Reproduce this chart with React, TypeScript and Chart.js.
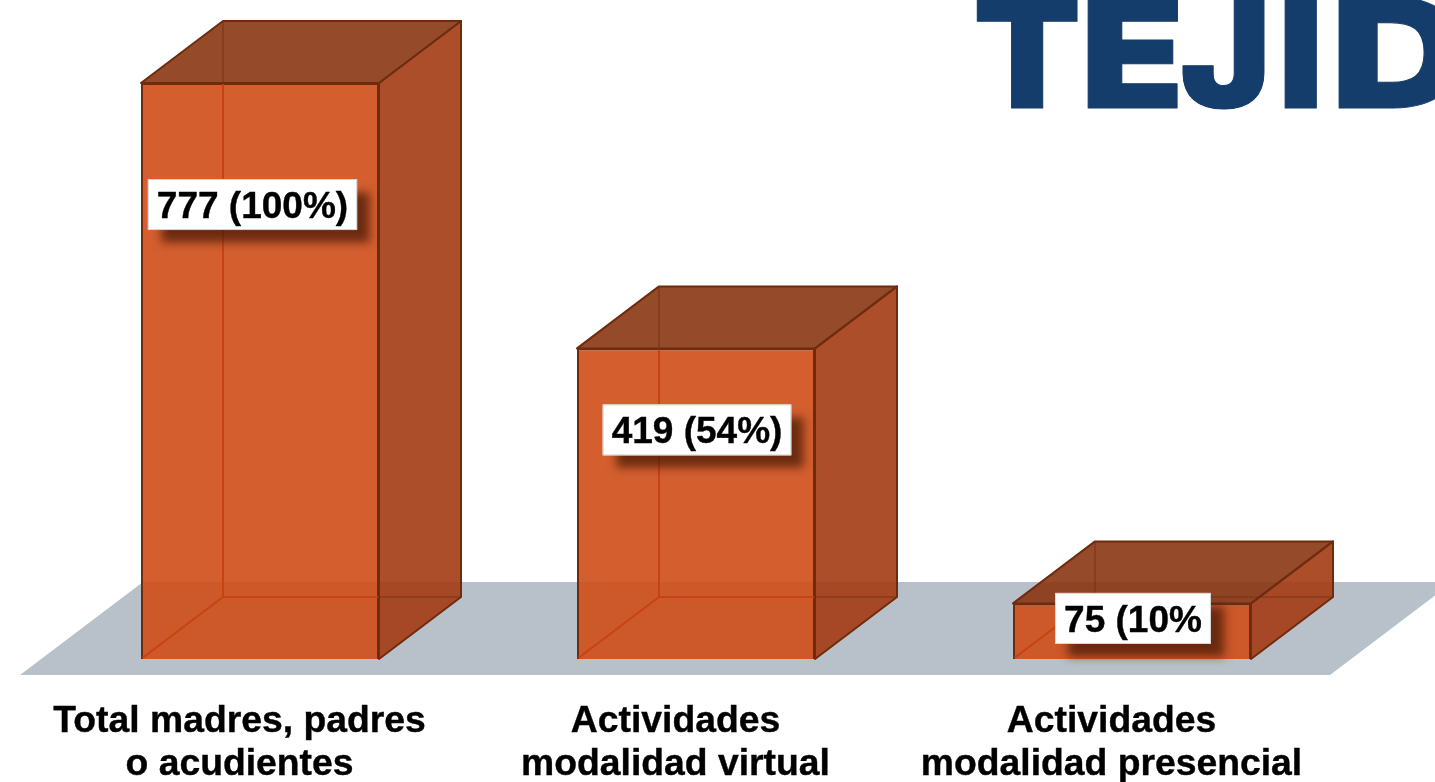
import React, { useEffect, useRef } from "react";
import { Chart, registerables } from "chart.js";

Chart.register(...registerables);

const categories = [
  ["Total madres, padres", "o acudientes"],
  ["Actividades", "modalidad virtual"],
  ["Actividades", "modalidad presencial"],
];
const values = [777, 419, 75];
const valueLabels = ["777 (100%)", "419 (54%)", "75 (10%"];
const logoLetters = ["T", "E", "J", "I", "D"];

// Presentation only
const labelNudgeX = [-7.5, 1, 1];
const labelNudgeY = [121.5, 81.5, 15];
const logoLeft = [977, 1088, 1182, 1285, 1339];
const logoWidth = [100, 90, 82, 32, 124];
const DEPTH_X = 82;
const DEPTH_Y = -62;
const FONT = '"Liberation Sans", Arial, sans-serif';
const EDGE = "#6e2c0e";
const FRONT = "rgba(207,77,23,0.9)";
const SIDE = "rgba(164,59,19,0.9)";
const TOP = "rgba(138,54,18,0.9)";

function poly(ctx: CanvasRenderingContext2D, pts: number[][], fill?: string, stroke?: string, lw = 2) {
  ctx.beginPath();
  pts.forEach((p, i) => (i ? ctx.lineTo(p[0], p[1]) : ctx.moveTo(p[0], p[1])));
  if (fill) {
    ctx.closePath();
    ctx.fillStyle = fill;
    ctx.fill();
  }
  if (stroke) {
    ctx.strokeStyle = stroke;
    ctx.lineWidth = lw;
    ctx.lineJoin = "round";
    ctx.stroke();
  }
}

const box3d = {
  id: "box3d",
  beforeDatasetsDraw(chart: any) {
    const ctx = chart.ctx as CanvasRenderingContext2D;
    const bars = chart.getDatasetMeta(0).data;
    const base = chart.scales.y.getPixelForValue(0);
    const first = bars[0];
    const last = bars[bars.length - 1];
    const left = first.x - first.width / 2;
    const right = last.x + last.width / 2;
    // floor
    const fl = left - 121;
    const fr = right + 79;
    poly(ctx, [
      [fl, base + 16],
      [fr, base + 16],
      [fr + 123, base - 77],
      [fl + 123, base - 77],
    ], "#b8c0c9");
    // side and top faces
    bars.forEach((b: any) => {
      const x0 = b.x - b.width / 2;
      const x1 = b.x + b.width / 2;
      const yT = b.y;
      poly(ctx, [[x1, yT], [x1 + DEPTH_X, yT + DEPTH_Y], [x1 + DEPTH_X, base + DEPTH_Y], [x1, base]], SIDE, EDGE);
      poly(ctx, [[x0, yT], [x0 + DEPTH_X, yT + DEPTH_Y], [x1 + DEPTH_X, yT + DEPTH_Y], [x1, yT]], TOP, EDGE);
    });
  },
  afterDatasetsDraw(chart: any) {
    const ctx = chart.ctx as CanvasRenderingContext2D;
    const bars = chart.getDatasetMeta(0).data;
    const base = chart.scales.y.getPixelForValue(0);
    // hidden back edges seen through the translucent faces
    bars.forEach((b: any) => {
      const x0 = b.x - b.width / 2;
      const x1 = b.x + b.width / 2;
      const bx = x0 + DEPTH_X;
      const by = base + DEPTH_Y;
      const hidden = (color: string) => {
        poly(ctx, [[bx, b.y + DEPTH_Y], [bx, by]], undefined, color, 2);
        poly(ctx, [[x0, base], [bx, by], [x1 + DEPTH_X, by]], undefined, color, 2);
      };
      // through the front face
      ctx.save();
      ctx.beginPath();
      ctx.rect(x0 + 1, b.y + 1, b.width - 2, base - b.y - 2);
      ctx.clip();
      hidden("rgba(196,66,16,0.9)");
      ctx.restore();
      // through the top and side faces
      ctx.save();
      ctx.beginPath();
      ctx.rect(0, 0, 1435, 782);
      ctx.rect(x0 - 1, b.y - 1, b.width + 2, base - b.y + 2);
      ctx.clip("evenodd");
      hidden("rgba(110,44,14,0.4)");
      ctx.restore();
    });
    // value labels
    bars.forEach((b: any, i: number) => {
      ctx.save();
      ctx.font = `bold 37px ${FONT}`;
      const w = ctx.measureText(valueLabels[i]).width + 18;
      const h = 51;
      const cx = b.x + labelNudgeX[i];
      const cy = b.y + labelNudgeY[i];
      ctx.shadowColor = "rgba(66,24,5,0.72)";
      ctx.shadowBlur = 9;
      ctx.shadowOffsetX = 13;
      ctx.shadowOffsetY = 13;
      ctx.fillStyle = "#ffffff";
      ctx.fillRect(cx - w / 2, cy - h / 2, w, h);
      ctx.shadowColor = "transparent";
      ctx.strokeStyle = "#d4d4d8";
      ctx.lineWidth = 1;
      ctx.strokeRect(cx - w / 2 + 0.5, cy - h / 2 + 0.5, w - 1, h - 1);
      ctx.fillStyle = "#000000";
      ctx.textAlign = "center";
      ctx.textBaseline = "middle";
      ctx.fillText(valueLabels[i], cx, cy + 3);
      ctx.strokeStyle = "#000000";
      ctx.lineWidth = 0.4;
      ctx.strokeText(valueLabels[i], cx, cy + 3);
      ctx.restore();
    });
    // cropped logo
    ctx.save();
    ctx.font = `900 153px Inter, sans-serif`;
    ctx.fillStyle = "#153d6b";
    ctx.strokeStyle = "#153d6b";
    ctx.lineWidth = 1;
    ctx.textAlign = "left";
    ctx.textBaseline = "alphabetic";
    logoLetters.forEach((ch, i) => {
      const m = ctx.measureText(ch);
      const inkW = m.actualBoundingBoxRight + m.actualBoundingBoxLeft;
      ctx.save();
      ctx.translate(logoLeft[i], 108);
      ctx.scale(logoWidth[i] / inkW, 1);
      ctx.fillText(ch, m.actualBoundingBoxLeft, 0);
      ctx.strokeText(ch, m.actualBoundingBoxLeft, 0);
      ctx.restore();
    });
    ctx.restore();
  },
};

export default function App() {
  const ref = useRef<HTMLCanvasElement>(null);
  useEffect(() => {
    document.body.style.margin = "0";
    const chart = new Chart(ref.current!, {
      type: "bar",
      data: {
        labels: categories as any,
        datasets: [
          {
            data: values,
            backgroundColor: FRONT,
            borderColor: EDGE,
            borderWidth: 2,
            categoryPercentage: 1,
            barPercentage: 238 / 436,
          },
        ],
      },
      plugins: [box3d],
      options: {
        responsive: false,
        animation: false,
        layout: { padding: { left: 42, right: 85, top: 21.5, bottom: 0 } },
        plugins: { legend: { display: false }, tooltip: { enabled: false }, title: { display: false } },
        scales: {
          x: {
            grid: { display: false, drawTicks: false },
            border: { display: false },
            afterFit(s: any) {
              s.height = 123;
            },
            ticks: {
              maxRotation: 0,
              minRotation: 0,
              autoSkip: false,
              padding: 41,
              labelOffset: -20.5,
              color: "#000000",
              textStrokeColor: "#000000",
              textStrokeWidth: 0.4,
              font: { family: FONT, size: 37.3, weight: "bold", lineHeight: 1.153 },
            },
          },
          y: { display: false, min: 0, max: 860 },
        },
      },
    } as any);
    return () => chart.destroy();
  }, []);
  return (
    <canvas
      ref={ref}
      width={1435}
      height={782}
      style={{ display: "block", position: "absolute", left: 0, top: 0, width: 1435, height: 782 }}
    />
  );
}
